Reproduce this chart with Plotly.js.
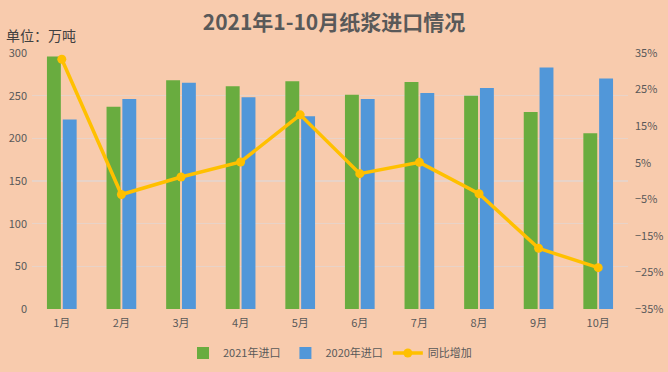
<!DOCTYPE html>
<html>
<head>
<meta charset="utf-8">
<script src="https://cdn.plot.ly/plotly-3.0.1.min.js"></script>
<style>html,body{margin:0;padding:0;background:#F8CBAD;}#chart{width:668px;height:372px;}</style>
</head>
<body>
<div id="chart"></div>
<script>
const months = ['1月','2月','3月','4月','5月','6月','7月','8月','9月','10月'];
const import2021 = [296, 237, 268, 261, 267, 251, 266, 250, 231, 206];
const import2020 = [222, 246, 265, 248, 226, 246, 253, 259, 283, 270];
const yoyGrowth = [33.3, -3.7, 1.1, 5.2, 18.1, 2.0, 5.1, -3.5, -18.4, -23.7];

const FONT = '"Noto Sans CJK SC", "Noto Sans", sans-serif';

const traces = [
  {type:'bar', name:'2021年进口', x:months, y:import2021,
   marker:{color:'#69AC3F', line:{width:0}}},
  {type:'bar', name:'2020年进口', x:months, y:import2020,
   marker:{color:'#5197D9', line:{width:0}}},
  {type:'scatter', mode:'lines+markers', name:'同比增加', x:months, y:yoyGrowth, yaxis:'y2',
   line:{color:'#FFC000', width:3.5}, marker:{color:'#FFC000', size:9}}
];

const layout = {
  width:668, height:372,
  paper_bgcolor:'#F8CBAD', plot_bgcolor:'#F8CBAD',
  margin:{l:32, r:40, t:53, b:63, autoexpand:false},
  font:{family:FONT, color:'#595959', size:11},
  title:{text:'<b>2021年1-10月纸浆进口情况</b>', x:0.5, xanchor:'center', y:0.94, yanchor:'middle', yref:'container',
         font:{family:FONT, size:21, color:'#595959'}},
  barmode:'group', bargap:0.47, bargroupgap:0.12,
  xaxis:{range:[-0.5, 9.5], autorange:false, showgrid:false, zeroline:false, showline:false, ticks:'',
         ticklabelstandoff:6, tickfont:{size:11, color:'#595959'}},
  yaxis:{range:[0,300], dtick:50, showgrid:true, gridcolor:'#E8D3C8', gridwidth:1.5,
         zeroline:false, showline:false, ticks:'', ticklabelstandoff:4, tickfont:{size:11, color:'#595959'}},
  yaxis2:{range:[-35,35], dtick:10, tick0:-35, overlaying:'y', side:'right', showgrid:false,
          zeroline:false, showline:false, ticks:'', ticklabelstandoff:6, ticksuffix:'%', tickfont:{size:11, color:'#595959'}},
  legend:{orientation:'h', x:0.5, xanchor:'center', y:-0.172, yanchor:'middle',
          font:{size:11, color:'#595959'}, bgcolor:'rgba(0,0,0,0)', traceorder:'normal'},
  showlegend:true,
  annotations:[{text:'单位：万吨', xref:'paper', yref:'paper', x:-0.047, y:1.072,
                xanchor:'left', yanchor:'middle', showarrow:false,
                font:{family:FONT, size:14, color:'#404040'}}]
};

Plotly.newPlot('chart', traces, layout, {displayModeBar:false, staticPlot:true});
</script>
</body>
</html>
